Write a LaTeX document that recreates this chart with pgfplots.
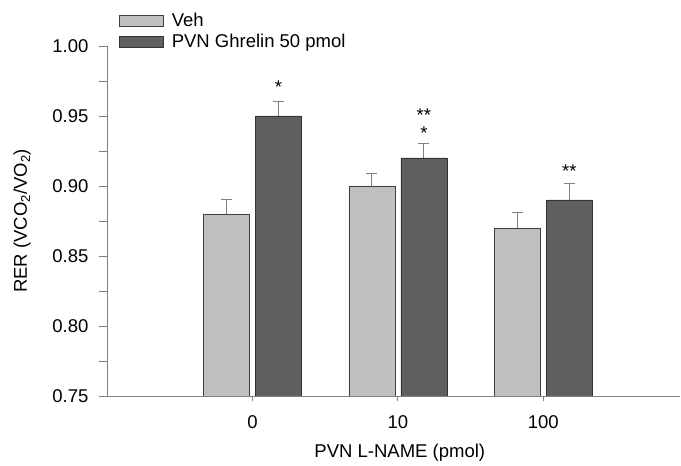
\documentclass[border=0pt]{standalone}
\usepackage{pgfplots}
\pgfplotsset{compat=1.18}
\usepackage{fontspec}
\setmainfont{Liberation Sans}
\definecolor{vehfill}{HTML}{C0C0C0}
\definecolor{ghrfill}{HTML}{606060}
\definecolor{axisgray}{HTML}{808080}
\definecolor{edgegray}{HTML}{404040}
\pgfplotstableread{
x y e
0 0.880 0.010
1 0.900 0.009
2 0.870 0.011
}\veh
\pgfplotstableread{
x y e
0 0.950 0.010
1 0.920 0.010
2 0.890 0.012
}\ghr
\pgfplotstableread{
x y t
0 0.9664 *
1 0.9463 **
1 0.9333 *
2 0.9064 **
}\stars
\begin{document}
\begin{tikzpicture}
\useasboundingbox (-107pt,-70pt) rectangle (574pt,396pt);
\begin{axis}[
  scale only axis, width=573pt, height=350pt,
  ybar, bar width=46pt,
  xmin=-1, xmax=2.94, ymin=0.75, ymax=1.0,
  axis x line*=bottom, axis y line*=left,
  axis line style={axisgray, line width=0.8pt, -},
  xtick={0,1,2}, xticklabels={0,10,100},
  ytick={0.75,0.80,0.85,0.90,0.95,1.00},
  yticklabel style={xshift=-7pt, /pgf/number format/.cd, fixed, fixed zerofill, precision=2},
  minor y tick num=1,
  tick align=outside,
  major tick length=8pt, minor tick length=8pt,
  xtick style={/pgfplots/major tick length=5pt},
  tick style={axisgray, line width=0.8pt},
  font=\fontsize{18.5}{22}\selectfont,
  /pgf/number format/assume math mode=true,
  xticklabel style={yshift=-8pt},
  xlabel={PVN L-NAME (pmol)},
  ylabel={RER (VCO\textsubscript{2}/VO\textsubscript{2})},
  xlabel style={at={(axis description cs:0.511,-0.162)}, anchor=center},
  ylabel style={at={(axis description cs:-0.148,0.5)}, anchor=center},
  legend style={draw=none, fill=none, at={(rel axis cs:0.016,1.107)}, anchor=north west,
    nodes={inner sep=2pt}, row sep=2.5pt},
  legend cell align=left,
  legend image code/.code={\draw[#1] (0pt,-5.5pt) rectangle (44pt,5.5pt); \path (50pt,0pt);},
  error bars/y dir=plus, error bars/y explicit,
  error bars/error bar style={axisgray, line width=1pt},
  error bars/error mark options={rotate=90, axisgray, mark size=5.5pt, line width=1pt},
]
\addplot[bar shift=-26pt, fill=vehfill, draw=edgegray]
  table[x=x, y=y, y error=e] {\veh};
\addplot[bar shift=26pt, fill=ghrfill, draw=black!80]
  table[x=x, y=y, y error=e] {\ghr};
\legend{Veh, PVN Ghrelin 50 pmol}
\addplot[bar shift=26pt, draw=none, fill=none, forget plot, error bars/y dir=none,
  nodes near coords, point meta=explicit symbolic,
  nodes near coords style={anchor=base, inner sep=0pt, text=black}]
  table[x=x, y=y, meta=t] {\stars};
\end{axis}
\end{tikzpicture}
\end{document}
